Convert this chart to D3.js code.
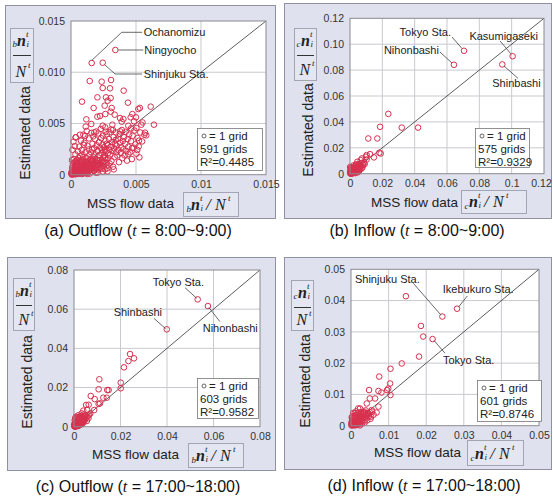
<!DOCTYPE html>
<html><head><meta charset="utf-8">
<script src="https://cdn.jsdelivr.net/npm/d3@7"></script>
<style>html,body{margin:0;padding:0;background:#fff;}svg{display:block;font-family:"Liberation Sans",Arial,sans-serif;}</style>
</head><body><svg id="c" width="553" height="497"></svg>
<script>
// ---------------- DATA ----------------
const outflowAMNamed = [
  {name:"Ochanomizu", v:[0.00159,0.0109]},
  {name:"Ningyocho", v:[0.00341,0.01217]},
  {name:"Shinjuku Sta.", v:[0.00244,0.01093]}
];
const outflowAM = [
  [0.00144,0.00914],[0.00236,0.00908],[0.00308,0.00924],[0.00244,0.00846],[0.00300,0.00843],[0.00405,0.00820],
  [0.00203,0.00755],[0.00269,0.00755],[0.00305,0.00748],[0.00085,0.00713],[0.00282,0.00722],[0.00438,0.00703],
  [0.00174,0.00651],[0.00259,0.00674],[0.00313,0.00651],[0.00518,0.00641],[0.00613,0.00664],[0.00305,0.00615],
  [0.00530,0.00652],[0.00118,0.00540],[0.00203,0.00566],[0.00223,0.00573],[0.00264,0.00592],[0.00336,0.00586],
  [0.00377,0.00553],[0.00472,0.00592],[0.00403,0.00543],[0.00459,0.00560],[0.00500,0.00560],[0.00113,0.00469],
  [0.00156,0.00495],[0.00244,0.00478],[0.00318,0.00488],[0.00390,0.00517],[0.00441,0.00478],[0.00485,0.00521],
  [0.00541,0.00488],[0.00638,0.00488],[0.00550,0.00510],[0.00036,0.00364],[0.00095,0.00390],[0.00179,0.00413],
  [0.00267,0.00420],[0.00323,0.00436],[0.00377,0.00423],[0.00462,0.00452],[0.00503,0.00456],[0.00564,0.00390],
  [0.00579,0.00384],[0.00523,0.00332],[0.00510,0.00241],[0.00526,0.00169],[0.00441,0.00202],[0.00469,0.00260],
  [0.00570,0.00410],
  [0.00005,0.00002],[0.00012,0.00031],[0.00018,0.00008],[0.00009,0.00064],[0.00024,0.00019],[0.00031,0.00047],
  [0.00015,0.00112],[0.00038,0.00005],[0.00027,0.00088],[0.00042,0.00026],[0.00021,0.00153],[0.00046,0.00071],
  [0.00034,0.00198],[0.00011,0.00243],[0.00039,0.00131],[0.00048,0.00012],[0.00029,0.00279],[0.00044,0.00101],
  [0.00036,0.00365],[0.00019,0.00322],
  [0.00052,0.00038],[0.00058,0.00009],[0.00061,0.00117],[0.00067,0.00055],[0.00071,0.00184],[0.00074,0.00022],
  [0.00079,0.00089],[0.00083,0.00241],[0.00086,0.00034],[0.00091,0.00146],[0.00094,0.00067],[0.00098,0.00292],
  [0.00056,0.00163],[0.00064,0.00274],[0.00088,0.00198],[0.00077,0.00332],[0.00095,0.00012],[0.00069,0.00390],
  [0.00054,0.00227],[0.00082,0.00128],
  [0.00102,0.00049],[0.00105,0.00103],[0.00109,0.00017],[0.00112,0.00221],[0.00116,0.00078],[0.00119,0.00163],
  [0.00123,0.00038],[0.00127,0.00283],[0.00131,0.00129],[0.00134,0.00062],[0.00138,0.00354],[0.00141,0.00194],
  [0.00144,0.00011],[0.00147,0.00097],[0.00103,0.00311],[0.00121,0.00426],[0.00136,0.00247],[0.00108,0.00377],
  [0.00149,0.00152],[0.00126,0.00008],
  [0.00152,0.00071],[0.00155,0.00218],[0.00158,0.00029],[0.00162,0.00134],[0.00165,0.00302],[0.00168,0.00088],
  [0.00172,0.00176],[0.00175,0.00041],[0.00178,0.00259],[0.00182,0.00112],[0.00185,0.00346],[0.00188,0.00198],
  [0.00192,0.00063],[0.00195,0.00152],[0.00198,0.00287],[0.00157,0.00408],[0.00171,0.00374],[0.00189,0.00021],
  [0.00161,0.00247],[0.00194,0.00421],
  [0.00202,0.00094],[0.00205,0.00231],[0.00208,0.00142],[0.00212,0.00051],[0.00215,0.00318],[0.00218,0.00187],
  [0.00222,0.00112],[0.00225,0.00264],[0.00228,0.00072],[0.00232,0.00356],[0.00235,0.00209],[0.00238,0.00138],
  [0.00242,0.00293],[0.00245,0.00031],[0.00248,0.00171],[0.00211,0.00403],[0.00229,0.00447],[0.00246,0.00382],
  [0.00203,0.00019],[0.00239,0.00243],
  [0.00252,0.00121],[0.00255,0.00268],[0.00258,0.00189],[0.00262,0.00052],[0.00265,0.00331],[0.00268,0.00227],
  [0.00272,0.00148],[0.00275,0.00394],[0.00278,0.00091],[0.00282,0.00289],[0.00285,0.00212],[0.00288,0.00161],
  [0.00292,0.00347],[0.00295,0.00243],[0.00298,0.00108],[0.00263,0.00462],[0.00281,0.00033],[0.00296,0.00413],
  [0.00259,0.00238],[0.00274,0.00302],
  [0.00302,0.00196],[0.00306,0.00271],[0.00311,0.00134],[0.00315,0.00318],[0.00319,0.00232],[0.00323,0.00078],
  [0.00327,0.00368],[0.00332,0.00257],[0.00336,0.00171],[0.00341,0.00301],[0.00345,0.00412],[0.00348,0.00219],
  [0.00309,0.00441],[0.00329,0.00052],[0.00343,0.00339],
  [0.00352,0.00283],[0.00356,0.00187],[0.00361,0.00351],[0.00365,0.00243],[0.00369,0.00122],[0.00374,0.00398],
  [0.00378,0.00312],[0.00383,0.00214],[0.00387,0.00268],[0.00391,0.00436],[0.00395,0.00161],[0.00399,0.00329],
  [0.00403,0.00247],[0.00408,0.00366],[0.00412,0.00189],[0.00417,0.00302],[0.00421,0.00419],[0.00426,0.00231],
  [0.00431,0.00138],[0.00436,0.00348],[0.00441,0.00273],[0.00447,0.00392],
  [0.00455,0.00218],[0.00462,0.00327],[0.00468,0.00152],[0.00474,0.00381],[0.00481,0.00264],[0.00488,0.00431],
  [0.00495,0.00297],[0.00503,0.00205],[0.00512,0.00358],[0.00521,0.00276],[0.00533,0.00412],[0.00547,0.00325],
  [0.00003,0.00011],[0.00007,0.00004],[0.00014,0.00016],[0.00022,0.00003],[0.00026,0.00041],[0.00033,0.00014],
  [0.00041,0.00052],[0.00049,0.00029],[0.00057,0.00067],[0.00063,0.00018],[0.00072,0.00044],[0.00081,0.00061],
  [0.00089,0.00027],[0.00097,0.00083],[0.00016,0.00049],[0.00037,0.00079],[0.00053,0.00096],[0.00066,0.00039],
  [0.00084,0.00007],[0.00111,0.00056],[0.00124,0.00089],[0.00135,0.00031],[0.00146,0.00074],[0.00107,0.00132],
  [0.00118,0.00014],[0.00153,0.00047],[0.00164,0.00102],[0.00177,0.00066],[0.00186,0.00131],[0.00199,0.00084],
  [0.00002,0.00021],[0.00010,0.00009],[0.00017,0.00027],[0.00025,0.00012],[0.00030,0.00033],[0.00035,0.00022],
  [0.00043,0.00039],[0.00047,0.00017],[0.00051,0.00058],[0.00055,0.00028],[0.00060,0.00046],[0.00065,0.00073],
  [0.00068,0.00011],[0.00073,0.00032],[0.00076,0.00078],[0.00080,0.00049],[0.00085,0.00092],[0.00087,0.00019],
  [0.00092,0.00056],[0.00096,0.00038],[0.00099,0.00111],[0.00104,0.00071],[0.00110,0.00093],[0.00114,0.00029],
  [0.00117,0.00118],[0.00122,0.00064],[0.00128,0.00047],[0.00132,0.00101],[0.00137,0.00082],[0.00142,0.00136],
  [0.00148,0.00053],[0.00151,0.00117],[0.00156,0.00091],[0.00163,0.00068],[0.00167,0.00148],[0.00173,0.00109],
  [0.00179,0.00038],[0.00184,0.00089],[0.00191,0.00121],[0.00197,0.00059],[0.00206,0.00113],[0.00213,0.00077],
  [0.00221,0.00142],[0.00227,0.00096],[0.00236,0.00058],[0.00244,0.00119],[0.00253,0.00087],[0.00261,0.00161],
  [0.00271,0.00116],[0.00279,0.00062],[0.00008,0.00142],[0.00013,0.00087],[0.00023,0.00121],[0.00028,0.00061],
  [0.00040,0.00096],[0.00045,0.00143],[0.00059,0.00124],[0.00070,0.00139],[0.00078,0.00108],[0.00093,0.00171]
];
const inflowAMNamed = [
  {name:"Tokyo Sta.", v:[0.0705,0.0949]},
  {name:"Nihonbashi", v:[0.0643,0.0841]},
  {name:"Kasumigaseki", v:[0.1006,0.0907]},
  {name:"Shinbashi", v:[0.0942,0.0844]}
];
const inflowAM = [
  [0.0237,0.0462],[0.0186,0.0362],[0.0320,0.0356],[0.0421,0.0356],[0.0113,0.0272],[0.0169,0.0272],[0.0190,0.0156],
  [0.0181,0.0162],[0.0148,0.0126],[0.0124,0.0151],[0.0103,0.0144],[0.0099,0.0131],[0.0103,0.0110],[0.0074,0.0118],
  [0.0066,0.0105],[0.0045,0.0092],[0.0037,0.0072],[0.0054,0.0074],[0.0021,0.0064],[0.0031,0.0054],[0.0041,0.0041],
  [0.0062,0.0054],[0.0082,0.0067],[0.0054,0.0028],[0.0016,0.0033],
  [0.0002,0.0001],[0.0005,0.0003],[0.0008,0.0006],[0.0003,0.0011],[0.0011,0.0004],[0.0014,0.0009],[0.0006,0.0017],
  [0.0017,0.0002],[0.0019,0.0014],[0.0009,0.0022],[0.0022,0.0007],[0.0025,0.0019],[0.0013,0.0027],[0.0028,0.0012],
  [0.0031,0.0024],[0.0004,0.0035],[0.0034,0.0005],[0.0036,0.0031],[0.0018,0.0038],[0.0039,0.0016],[0.0042,0.0026],
  [0.0026,0.0045],[0.0046,0.0035],[0.0049,0.0011],[0.0052,0.0044],[0.0001,0.0052],[0.0033,0.0058],[0.0057,0.0021],
  [0.0059,0.0063],[0.0064,0.0037],[0.0070,0.0082],[0.0077,0.0049],[0.0085,0.0088],[0.0091,0.0075],[0.0012,0.0006],
  [0.0007,0.0013],[0.0015,0.0019],[0.0024,0.0031],[0.0044,0.0052],[0.0029,0.0039],
  [0.0003,0.0006],[0.0006,0.0001],[0.0010,0.0009],[0.0001,0.0015],[0.0013,0.0014],[0.0016,0.0005],[0.0004,0.0024],
  [0.0020,0.0010],[0.0021,0.0022],[0.0008,0.0030],[0.0027,0.0017],[0.0010,0.0038],[0.0023,0.0037],[0.0030,0.0033],
  [0.0035,0.0012],[0.0038,0.0040],[0.0014,0.0044],[0.0005,0.0046],[0.0040,0.0022],[0.0047,0.0028],[0.0019,0.0050],
  [0.0055,0.0033],[0.0062,0.0048],[0.0068,0.0060],[0.0036,0.0068],[0.0072,0.0040],[0.0080,0.0071],[0.0049,0.0063]
];
const outflowPMNamed = [
  {name:"Tokyo Sta.", v:[0.0532,0.0650]},
  {name:"Shinbashi", v:[0.0399,0.0497]},
  {name:"Nihonbashi", v:[0.0576,0.0616]}
];
const outflowPM = [
  [0.0241,0.0371],[0.0234,0.0335],[0.0258,0.0349],[0.0215,0.0303],[0.0201,0.0225],[0.0201,0.0196],[0.0109,0.0242],
  [0.0106,0.0191],[0.0143,0.0187],[0.0149,0.0187],[0.0141,0.0148],[0.0126,0.0148],[0.0072,0.0157],[0.0089,0.0141],
  [0.0112,0.0119],[0.0106,0.0116],[0.0087,0.0085],[0.0052,0.0111],[0.0063,0.0112],[0.0040,0.0082],[0.0033,0.0068],
  [0.0057,0.0085],[0.0066,0.0063],[0.0026,0.0051],[0.0037,0.0046],[0.0062,0.0043],[0.0047,0.0056],
  [0.0001,0.0002],[0.0004,0.0001],[0.0007,0.0005],[0.0002,0.0009],[0.0010,0.0003],[0.0013,0.0010],[0.0005,0.0015],
  [0.0016,0.0006],[0.0019,0.0016],[0.0008,0.0021],[0.0022,0.0011],[0.0025,0.0023],[0.0012,0.0028],[0.0028,0.0018],
  [0.0031,0.0030],[0.0003,0.0033],[0.0034,0.0022],[0.0017,0.0036],[0.0037,0.0035],[0.0021,0.0041],[0.0040,0.0029],
  [0.0006,0.0044],[0.0029,0.0045],[0.0043,0.0040],[0.0011,0.0048],[0.0035,0.0049],[0.0045,0.0052],[0.0024,0.0033],
  [0.0014,0.0024],[0.0033,0.0013],
  [0.0003,0.0005],[0.0006,0.0000],[0.0009,0.0008],[0.0001,0.0012],[0.0012,0.0004],[0.0015,0.0014],[0.0004,0.0019],
  [0.0018,0.0003],[0.0020,0.0020],[0.0009,0.0025],[0.0024,0.0008],[0.0027,0.0027],[0.0016,0.0031],[0.0030,0.0012],
  [0.0033,0.0034],[0.0006,0.0038],[0.0036,0.0016],[0.0039,0.0039],[0.0023,0.0044],[0.0042,0.0024],[0.0008,0.0051],
  [0.0048,0.0036],[0.0051,0.0047],[0.0031,0.0055],[0.0055,0.0029],[0.0058,0.0052],[0.0018,0.0058],[0.0063,0.0057],
  [0.0041,0.0062],[0.0070,0.0068]
];
const inflowPMNamed = [
  {name:"Shinjuku Sta.", v:[0.0243,0.0349]},
  {name:"Ikebukuro Sta.", v:[0.0282,0.0374]},
  {name:"Tokyo Sta.", v:[0.0217,0.0277]}
];
const inflowPM = [
  [0.0146,0.0414],[0.0186,0.0319],[0.0192,0.0285],[0.0181,0.0221],[0.0135,0.0199],[0.0105,0.0182],[0.0075,0.0157],
  [0.0104,0.0135],[0.0099,0.0119],[0.0096,0.0114],[0.0073,0.0111],[0.0081,0.0106],[0.0105,0.0098],[0.0048,0.0114],
  [0.0050,0.0087],[0.0064,0.0087],[0.0073,0.0061],[0.0019,0.0055],[0.0024,0.0055],[0.0042,0.0071],[0.0055,0.0050],
  [0.0068,0.0042],[0.0035,0.0045],
  [0.0001,0.0001],[0.0003,0.0004],[0.0006,0.0002],[0.0002,0.0008],[0.0009,0.0006],[0.0011,0.0001],[0.0005,0.0012],
  [0.0013,0.0010],[0.0015,0.0004],[0.0008,0.0016],[0.0017,0.0013],[0.0019,0.0007],[0.0004,0.0020],[0.0021,0.0018],
  [0.0023,0.0011],[0.0012,0.0022],[0.0025,0.0024],[0.0027,0.0005],[0.0016,0.0027],[0.0029,0.0015],[0.0031,0.0029],
  [0.0007,0.0031],[0.0033,0.0021],[0.0020,0.0033],[0.0036,0.0009],[0.0038,0.0034],[0.0026,0.0038],[0.0040,0.0026],
  [0.0010,0.0040],[0.0043,0.0017],[0.0045,0.0040],[0.0032,0.0043],[0.0048,0.0031],[0.0014,0.0046],[0.0052,0.0022],
  [0.0056,0.0045],[0.0039,0.0049],[0.0060,0.0035],[0.0002,0.0026],[0.0024,0.0001],
  [0.0002,0.0004],[0.0004,0.0001],[0.0007,0.0007],[0.0001,0.0010],[0.0010,0.0003],[0.0012,0.0013],[0.0003,0.0015],
  [0.0014,0.0008],[0.0016,0.0018],[0.0006,0.0020],[0.0018,0.0003],[0.0020,0.0023],[0.0010,0.0026],[0.0022,0.0014],
  [0.0024,0.0029],[0.0003,0.0029],[0.0026,0.0019],[0.0028,0.0033],[0.0013,0.0034],[0.0030,0.0009],[0.0032,0.0037],
  [0.0034,0.0026],[0.0017,0.0040],[0.0037,0.0017],[0.0041,0.0036],[0.0044,0.0030],[0.0027,0.0044],[0.0047,0.0038],
  [0.0050,0.0043],[0.0035,0.0041],[0.0006,0.0041],[0.0053,0.0029]
];
const ticksA = [0,0.005,0.01,0.015], xLabA = ["0","0.005","0.01","0.015"], yLabA = ["0","0.005","0.010","0.015"];
const ticksB = [0,0.02,0.04,0.06,0.08,0.1,0.12], xLabB = ["0","0.02","0.04","0.06","0.08","0.1","0.12"], yLabB = ["0","0.02","0.04","0.06","0.08","0.10","0.12"];
const ticksC = [0,0.02,0.04,0.06,0.08], xLabC = ["0","0.02","0.04","0.06","0.08"], yLabC = xLabC;
const ticksD = [0,0.01,0.02,0.03,0.04,0.05], xLabD = ["0","0.01","0.02","0.03","0.04","0.05"], yLabD = xLabD;
const gridCounts = ["591 grids","575 grids","603 grids","601 grids"];
const rSquared = ["R\u00B2=0.4485","R\u00B2=0.9329","R\u00B2=0.9582","R\u00B2=0.8746"];
const captions = [["(a) Outflow (","8:00~9:00)"],["(b) Inflow (","8:00~9:00)"],["(c) Outflow (","17:00~18:00)"],["(d) Inflow (","17:00~18:00)"]];
const subLetters = ["b","c","b","c"];

// ---------------- LAYOUT ----------------
const panels = [
  {pts:outflowAM, named:outflowAMNamed, max:0.015, ticks:ticksA, xl:xLabA, yl:yLabA,
   box:[5,5,270,213], plot:[71,21,195,153.7], leg:[197,128,65,42], yfrac:[10,28,23,54], xfrac:[183,192,55,24],
   ylab:[25,133], xlab:[87,208], cap:[138,236],
   ann:[{t:"start",tx:52,ty:-27,path:[[0,-2.5],[30,-30.7],[50.5,-30.7]]},
        {t:"start",tx:29,ty:4,path:[[3,0],[28,0]]},
        {t:"start",tx:41,ty:15,path:[[2,2],[12.3,11.3],[39.3,11.3]]}]},
  {pts:inflowAM, named:inflowAMNamed, max:0.12, ticks:ticksB, xl:xLabB, yl:yLabB,
   box:[284,3,267,215], plot:[350,18.3,194,155.4], leg:[475,128,54,39], yfrac:[294,28,22,52], xfrac:[461,190,65,23],
   ylab:[308,130], xlab:[371,207], cap:[417,236],
   ann:[{t:"end",tx:-13,ty:-15,path:[[-12,-13.8],[-2,-2.3]]},
        {t:"end",tx:-15,ty:-11,path:[[-14,-12.8],[-2,-1.8]]},
        {t:"middle",tx:-9,ty:-16.6,path:[[-12.6,-15.3],[-1.6,-2.3]]},
        {t:"start",tx:-10,ty:22.6,path:[[1.7,1.6],[15.7,13.9]]}]},
  {pts:outflowPM, named:outflowPMNamed, max:0.08, ticks:ticksC, xl:xLabC, yl:yLabC,
   box:[7,257,268,213], plot:[74,270,186,156.7], leg:[197,378,61,40], yfrac:[13,278,21,52], xfrac:[188,443,55,24],
   ylab:[27,382], xlab:[92,459], cap:[138,492],
   ann:[{t:"end",tx:6.3,ty:-13.4,path:[[-12.7,-11.7],[-1,-1.1]]},
        {t:"end",tx:-4.8,ty:-13.3,path:[[-12.8,-11],[-1.1,-0.6]]},
        {t:"start",tx:-5.2,ty:25.9,path:[[1,1.4],[12,15.6]]}]},
  {pts:inflowPM, named:inflowPMNamed, max:0.05, ticks:ticksD, xl:xLabD, yl:yLabD,
   box:[284,257,267,212], plot:[351,269.3,188,156.4], leg:[477,380,64,41], yfrac:[291,280,22,50], xfrac:[467,440,56,25],
   ylab:[305,381], xlab:[374,457], cap:[424,491],
   ann:[{t:"start",tx:-87.4,ty:-33.5,path:[[-29,-33.2],[-1.4,-1.5]]},
        {t:"start",tx:-14.3,ty:-15.7,path:[[10.3,-12.7],[1.5,-1.7]]},
        {t:"start",tx:10.4,ty:24.9,path:[[1.4,1.4],[12.4,14.2]]}]}
];

const svg = d3.select("#c");
const BG = "#dfe1ee", BORDER = "#8f90a0", RED = "#d8304f";
const SERIF = '"Liberation Serif","Times New Roman",serif';

function fracV(g, b, sub){
  const [bx,by,bw,bh] = b;
  g.append("rect").attr("x",bx+0.5).attr("y",by+0.5).attr("width",bw).attr("height",bh).attr("fill","#e4e6f1").attr("stroke","#a3a5b5");
  const t = g.append("g").attr("font-family",SERIF).attr("font-style","italic").attr("fill","#222");
  t.append("text").attr("x",bx+2.5).attr("y",by+19).attr("font-size",9).text(sub);
  t.append("text").attr("x",bx+7).attr("y",by+18).attr("font-size",16).attr("font-weight","bold").text("n");
  t.append("text").attr("x",bx+16).attr("y",by+9).attr("font-size",9).text("t");
  t.append("text").attr("x",bx+16.5).attr("y",by+19).attr("font-size",9).text("i");
  g.append("line").attr("x1",bx+3).attr("x2",bx+bw-2).attr("y1",by+27.5).attr("y2",by+27.5).attr("stroke","#333").attr("stroke-width",1);
  t.append("text").attr("x",bx+5.5).attr("y",by+bh-5).attr("font-size",16).text("N");
  t.append("text").attr("x",bx+18).attr("y",by+bh-14).attr("font-size",9).text("t");
}
function fracH(g, b, sub){
  const [bx,by,bw,bh] = b;
  g.append("rect").attr("x",bx+0.5).attr("y",by+0.5).attr("width",bw).attr("height",bh).attr("fill","#e4e6f1").attr("stroke","#a3a5b5");
  const base = by+bh-6;
  const t = g.append("g").attr("font-family",SERIF).attr("font-style","italic").attr("fill","#222");
  t.append("text").attr("x",bx+3.5).attr("y",base+2).attr("font-size",9).text(sub);
  t.append("text").attr("x",bx+8).attr("y",base).attr("font-size",16).attr("font-weight","bold").text("n");
  t.append("text").attr("x",bx+17).attr("y",base-9).attr("font-size",9).text("t");
  t.append("text").attr("x",bx+17.5).attr("y",base+1).attr("font-size",9).text("i");
  t.append("text").attr("x",bx+23).attr("y",base).attr("font-size",17).text("/");
  t.append("text").attr("x",bx+32).attr("y",base).attr("font-size",16).text("N");
  t.append("text").attr("x",bx+45).attr("y",base-9).attr("font-size",9).text("t");
}

panels.forEach((p, k) => {
  const g = svg.append("g");
  const [bx,by,bw,bh] = p.box;
  g.append("rect").attr("x",bx+0.5).attr("y",by+0.5).attr("width",bw).attr("height",bh).attr("fill",BG).attr("stroke",BORDER).attr("stroke-width",1);
  const [px,py,pw,ph] = p.plot;
  const x = d3.scaleLinear().domain([0,p.max]).range([px,px+pw]);
  const y = d3.scaleLinear().domain([0,p.max]).range([py+ph,py]);
  g.append("rect").attr("x",px).attr("y",py).attr("width",pw).attr("height",ph).attr("fill","#fff");
  const inner = p.ticks.slice(1,-1);
  g.selectAll(null).data(inner).join("line").attr("x1",d=>x(d)).attr("x2",d=>x(d)).attr("y1",py).attr("y2",py+ph).attr("stroke","#c9c9cf").attr("stroke-width",1);
  g.selectAll(null).data(inner).join("line").attr("y1",d=>y(d)).attr("y2",d=>y(d)).attr("x1",px).attr("x2",px+pw).attr("stroke","#c9c9cf").attr("stroke-width",1);
  const ax = g.append("g").attr("transform",`translate(0,${py+ph})`)
    .call(d3.axisBottom(x).tickValues(p.ticks).tickFormat((d,i)=>p.xl[i]).tickSize(0).tickPadding(6));
  const ay = g.append("g").attr("transform",`translate(${px},0)`)
    .call(d3.axisLeft(y).tickValues(p.ticks).tickFormat((d,i)=>p.yl[i]).tickSize(0).tickPadding(6));
  [ax,ay].forEach(a=>{a.select(".domain").remove(); a.selectAll("text").attr("font-size",10.5).attr("fill","#333").attr("font-family",'"Liberation Sans",Arial,sans-serif');});
  if (k === 1) ax.selectAll("text").filter((d,i,n)=>i===n.length-1).attr("dx",-3);
  g.append("line").attr("x1",x(0)).attr("y1",y(0)).attr("x2",x(p.max)).attr("y2",y(p.max)).attr("stroke","#333").attr("stroke-width",0.8);
  const all = p.pts.concat(p.named.map(n=>n.v));
  g.selectAll(null).data(all).join("circle").attr("cx",d=>x(d[0])).attr("cy",d=>y(d[1])).attr("r",2.8)
    .attr("fill","none").attr("stroke",RED).attr("stroke-width",1);
  p.named.forEach((n,i)=>{
    const a = p.ann[i]; const cx = x(n.v[0]), cy = y(n.v[1]);
    g.append("polyline").attr("points",a.path.map(o=>[cx+o[0],cy+o[1]].join(",")).join(" "))
      .attr("fill","none").attr("stroke","#444").attr("stroke-width",0.8);
    g.append("text").attr("x",cx+a.tx).attr("y",cy+a.ty).attr("text-anchor",a.t).attr("font-size",11).attr("fill","#222").text(n.name);
  });
  g.append("rect").attr("x",px).attr("y",py).attr("width",pw).attr("height",ph).attr("fill","none").attr("stroke","#8a8a8f").attr("stroke-width",1);
  const [lx,ly,lw,lh] = p.leg;
  g.append("rect").attr("x",lx+0.5).attr("y",ly+0.5).attr("width",lw).attr("height",lh).attr("fill","#fff").attr("stroke","#777").attr("stroke-width",0.8);
  g.append("circle").attr("cx",lx+7).attr("cy",ly+8).attr("r",2).attr("fill","none").attr("stroke","#444").attr("stroke-width",0.8);
  g.append("text").attr("x",lx+12).attr("y",ly+12).attr("font-size",11.5).attr("fill","#222").text("= 1 grid");
  g.append("text").attr("x",lx+3).attr("y",ly+25).attr("font-size",11.5).attr("fill","#222").text(gridCounts[k]);
  g.append("text").attr("x",lx+3).attr("y",ly+38).attr("font-size",11.5).attr("fill","#222").text(rSquared[k]);
  g.append("text").attr("transform",`translate(${p.ylab[0]+5},${p.ylab[1]}) rotate(-90)`).attr("text-anchor","middle")
    .attr("font-size",14).attr("fill","#222").text("Estimated data");
  g.append("text").attr("x",p.xlab[0]).attr("y",p.xlab[1]).attr("font-size",13.5).attr("fill","#222").text("MSS flow data");
  fracV(g, p.yfrac, subLetters[k]);
  fracH(g, p.xfrac, subLetters[k]);
  const c = svg.append("text").attr("x",p.cap[0]).attr("y",p.cap[1]).attr("text-anchor","middle").attr("font-size",16).attr("fill","#111");
  c.append("tspan").text(captions[k][0]);
  c.append("tspan").attr("font-family",SERIF).attr("font-style","italic").text("t");
  c.append("tspan").text(" = " + captions[k][1]);
});
</script></body></html>
